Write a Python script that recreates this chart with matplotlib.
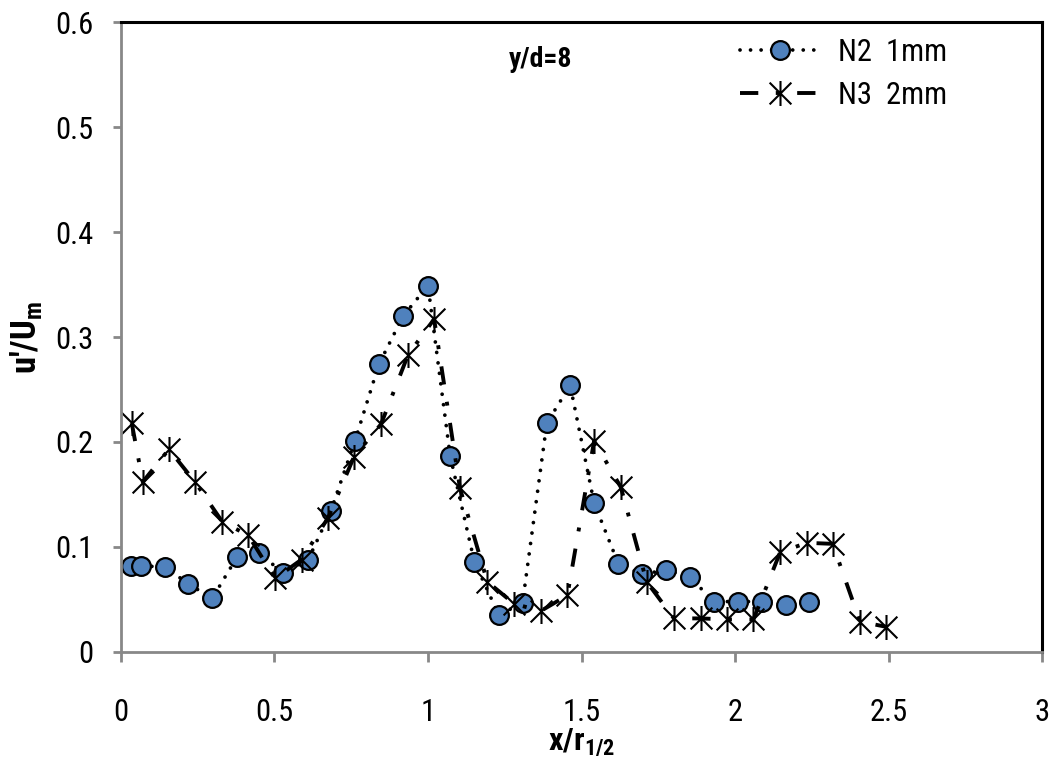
import numpy as np
import matplotlib
matplotlib.use("Agg")
import matplotlib.pyplot as plt
from matplotlib.path import Path
from matplotlib import font_manager

# N2 1mm (circles)
n2_x = [0.032, 0.065, 0.143, 0.219, 0.297, 0.377, 0.451, 0.529, 0.610, 0.683,
        0.762, 0.840, 0.919, 1.000, 1.072, 1.151, 1.231, 1.308, 1.387, 1.463,
        1.541, 1.620, 1.696, 1.775, 1.853, 1.932, 2.011, 2.087, 2.165, 2.242]
n2_y = [0.082, 0.082, 0.081, 0.065, 0.051, 0.090, 0.094, 0.075, 0.088, 0.134,
        0.201, 0.274, 0.320, 0.349, 0.187, 0.086, 0.035, 0.047, 0.218, 0.254,
        0.142, 0.084, 0.074, 0.078, 0.071, 0.048, 0.048, 0.048, 0.045, 0.048]

# N3 2mm (stars)
n3_x = [0.035, 0.071, 0.156, 0.241, 0.330, 0.415, 0.502, 0.588, 0.675, 0.759,
        0.847, 0.935, 1.020, 1.104, 1.193, 1.280, 1.367, 1.454, 1.541, 1.628,
        1.712, 1.801, 1.888, 1.973, 2.060, 2.147, 2.234, 2.318, 2.407, 2.492]
n3_y = [0.218, 0.162, 0.193, 0.162, 0.124, 0.111, 0.070, 0.088, 0.128, 0.186,
        0.217, 0.283, 0.317, 0.156, 0.067, 0.046, 0.039, 0.054, 0.201, 0.157,
        0.067, 0.032, 0.032, 0.031, 0.031, 0.095, 0.104, 0.103, 0.029, 0.024]

x_ticks = [0, 0.5, 1, 1.5, 2, 2.5, 3]
x_labels = ["0", "0.5", "1", "1.5", "2", "2.5", "3"]
y_ticks = [0, 0.1, 0.2, 0.3, 0.4, 0.5, 0.6]
y_labels = ["0", "0.1", "0.2", "0.3", "0.4", "0.5", "0.6"]

# pick the narrowest family that is actually installed
installed = {f.name for f in font_manager.fontManager.ttflist}
family = 'DejaVu Sans'
for cand in ['Liberation Sans Narrow', 'Roboto Condensed', 'Open Sans Condensed',
             'Liberation Sans']:
    if cand in installed:
        family = cand
        break

plt.rcParams['font.family'] = [family, 'DejaVu Sans']
plt.rcParams['mathtext.fontset'] = 'custom'
plt.rcParams['mathtext.rm'] = family
plt.rcParams['mathtext.bf'] = family + ':bold'

# excel style star: X with a vertical bar
star = Path([(-1, -1), (1, 1), (-1, 1), (1, -1), (0, -1.15), (0, 1.15)],
            [Path.MOVETO, Path.LINETO, Path.MOVETO, Path.LINETO, Path.MOVETO, Path.LINETO])

fig = plt.figure(figsize=(10.53, 7.64), dpi=100)
ax = fig.add_axes([0.1149, 0.1466, 0.8747, 0.8246])

ax.plot(n2_x, n2_y, color='black', lw=2.7, linestyle=(0, (0.01, 2.8)),
        dash_capstyle='round', marker='o', ms=13.5, mfc='#4F81BD', mec='black',
        mew=1.6, label="N2  1mm")
ax.plot(n3_x, n3_y, color='black', lw=2.8, linestyle=(0, (4.7, 4.5, 1.0, 4.5)),
        marker=star, ms=18, mfc='none', mec='black', mew=1.5, label="N3  2mm")

ax.set_xlim(0, 3)
ax.set_ylim(0, 0.6)
ax.set_xticks(x_ticks)
ax.set_xticklabels(x_labels)
ax.set_yticks(y_ticks)
ax.set_yticklabels(y_labels)

for s in ['left', 'bottom']:
    ax.spines[s].set_color('#888888')
    ax.spines[s].set_linewidth(2)
for s in ['top', 'right']:
    ax.spines[s].set_color('black')
    ax.spines[s].set_linewidth(2.2)

ax.tick_params(axis='x', direction='out', length=7, width=2, color='#888888',
               labelsize=22, pad=26)
ax.tick_params(axis='y', direction='out', length=6, width=2, color='#888888',
               labelsize=22, pad=14)

ax.set_xlabel(r"x/r$_{\mathbf{1/2}}$", fontsize=23, fontweight='bold', labelpad=0)
ax.set_ylabel(r"u'/U$_{\mathbf{m}}$", fontsize=25, fontweight='bold', labelpad=8)

ax.text(1.365, 0.564, "y/d=8", fontsize=20, fontweight='bold', ha='center', va='center')

ax.legend(loc='upper left', bbox_to_anchor=(0.672, 0.975), frameon=False,
          fontsize=22, handlelength=2.6, handletextpad=0.6, labelspacing=0.45,
          borderpad=0, borderaxespad=0)

fig.savefig("out.png", dpi=100)
